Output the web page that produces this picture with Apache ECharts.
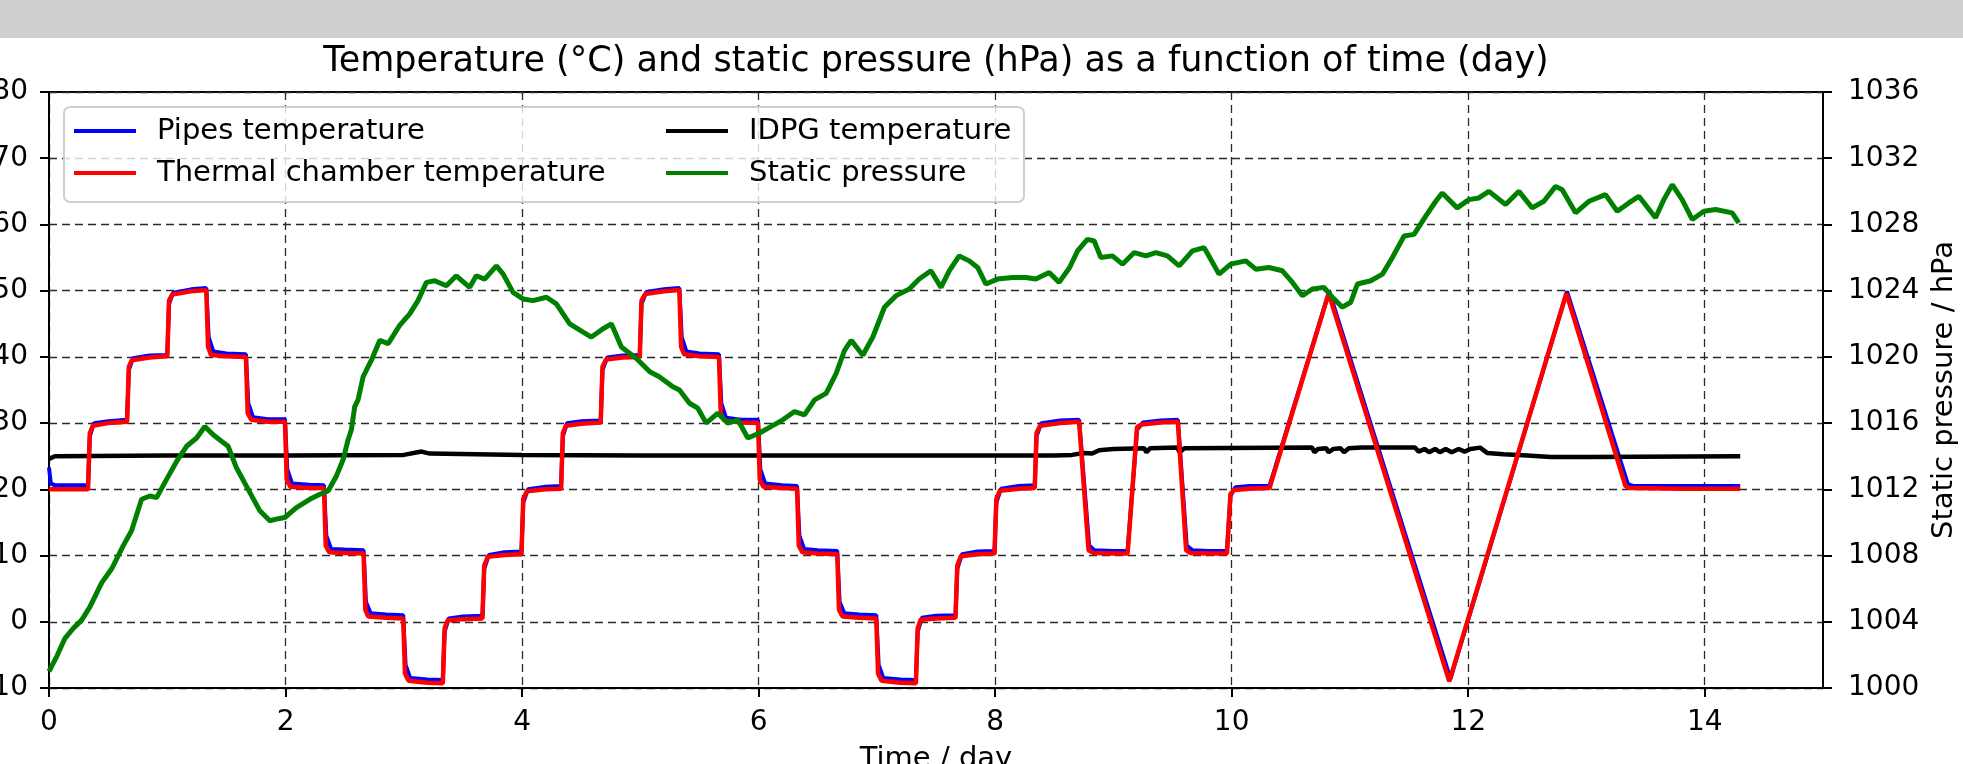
<!DOCTYPE html>
<html>
<head>
<meta charset="utf-8">
<script src="https://cdn.jsdelivr.net/npm/echarts@6/dist/echarts.min.js"></script>
<style>
html,body{margin:0;padding:0;background:#fff;}
#chart{width:1963px;height:764px;}
</style>
</head>
<body>
<div id="chart"></div>
<script>
// ---------- data (time in days) ----------
const xTicks = [0, 2, 4, 6, 8, 10, 12, 14];

const pipesTemperature = [
[0,23.3],[0.015,20.9],[0.05,20.6],[0.33,20.6],[0.345,28],[0.38,30],[0.5,30.3],[0.66,30.5],[0.675,38],[0.71,39.8],[0.85,40.2],[1.0,40.3],
[1.015,48],[1.05,49.7],[1.2,50.2],[1.33,50.4],[1.35,43],[1.39,40.8],[1.5,40.5],[1.665,40.4],[1.685,33],[1.725,30.9],[1.85,30.6],[1.995,30.6],
[2.015,23],[2.055,20.9],[2.2,20.7],[2.325,20.6],[2.345,13],[2.385,11.0],[2.5,10.9],[2.66,10.8],[2.68,3],[2.72,1.3],[2.85,1.1],[2.995,1.0],
[3.015,-6.5],[3.055,-8.5],[3.2,-8.7],[3.33,-8.8],[3.345,-1.5],[3.38,0.5],[3.5,0.8],[3.665,0.9],[3.68,8],[3.72,10.1],[3.85,10.5],[3.995,10.6],
[4.01,18],[4.05,20.0],[4.2,20.4],[4.33,20.5],[4.345,28],[4.38,30.0],[4.5,30.3],[4.665,30.4],[4.68,38],[4.72,39.9],[4.85,40.2],[4.995,40.3],
[5.01,48],[5.05,49.8],[5.2,50.2],[5.33,50.4],[5.35,43],[5.39,40.8],[5.5,40.5],[5.665,40.4],[5.685,33],[5.725,30.8],[5.85,30.5],[5.995,30.5],
[6.015,23],[6.055,20.9],[6.2,20.6],[6.325,20.5],[6.345,13],[6.385,11.0],[6.5,10.8],[6.665,10.7],[6.685,3],[6.725,1.3],[6.85,1.1],[6.995,1.0],
[7.015,-6.5],[7.055,-8.5],[7.2,-8.7],[7.33,-8.8],[7.345,-1.5],[7.38,0.6],[7.5,0.9],[7.665,1.0],[7.68,8],[7.72,10.2],[7.85,10.6],[7.995,10.7],
[8.01,18],[8.05,20.1],[8.2,20.5],[8.335,20.6],[8.35,28],[8.39,30.0],[8.55,30.4],[8.71,30.5],[8.795,11.5],[8.84,10.8],[9.0,10.7],[9.12,10.7],
[9.2,29],[9.25,30.1],[9.4,30.4],[9.545,30.5],[9.62,11.5],[9.67,10.8],[9.8,10.7],[9.96,10.7],[9.99,19],[10.03,20.3],[10.15,20.5],[10.32,20.5],
[10.825,49.9],[11.85,-8.6],[12.835,49.9],[13.35,20.8],[13.4,20.5],[13.8,20.5],[14.3,20.5]
];

const chamberTemperature = [
[0,20],[0.33,20],[0.345,28.5],[0.37,29.6],[0.5,30],[0.66,30.2],[0.675,38.5],[0.7,39.5],[0.85,39.9],[1.0,40.1],
[1.015,48.5],[1.04,49.4],[1.2,49.9],[1.33,50.1],[1.345,41.5],[1.37,40.3],[1.5,40.1],[1.665,40],[1.68,31.5],[1.71,30.5],[1.85,30.2],[1.995,30.2],
[2.01,21.5],[2.04,20.4],[2.2,20.2],[2.325,20.2],[2.34,11.5],[2.37,10.5],[2.5,10.4],[2.66,10.3],[2.675,1.8],[2.70,0.8],[2.85,0.6],[2.995,0.5],
[3.01,-7.8],[3.04,-8.9],[3.2,-9.2],[3.33,-9.3],[3.345,-1],[3.37,0.2],[3.5,0.4],[3.665,0.5],[3.68,8.5],[3.71,9.8],[3.85,10.1],[3.995,10.2],
[4.01,18.5],[4.04,19.7],[4.2,20],[4.33,20.1],[4.345,28.5],[4.37,29.6],[4.5,29.9],[4.665,30.1],[4.68,38.5],[4.71,39.6],[4.85,39.9],[4.995,40],
[5.01,48.5],[5.04,49.5],[5.2,49.9],[5.33,50.1],[5.345,41.5],[5.37,40.4],[5.5,40.1],[5.665,40],[5.68,31.5],[5.71,30.4],[5.85,30.1],[5.995,30],
[6.01,21.5],[6.04,20.4],[6.2,20.2],[6.325,20.1],[6.34,11.5],[6.37,10.5],[6.5,10.3],[6.665,10.2],[6.68,1.8],[6.71,0.8],[6.85,0.6],[6.995,0.5],
[7.01,-7.8],[7.04,-8.9],[7.2,-9.2],[7.33,-9.3],[7.345,-1],[7.37,0.3],[7.5,0.5],[7.665,0.6],[7.68,8.5],[7.71,9.9],[7.85,10.2],[7.995,10.3],
[8.01,18.5],[8.04,19.8],[8.2,20.1],[8.335,20.2],[8.35,28.5],[8.38,29.6],[8.55,30],[8.71,30.2],[8.79,10.8],[8.83,10.4],[9.0,10.3],[9.12,10.3],
[9.2,29.4],[9.24,29.8],[9.4,30.1],[9.545,30.2],[9.615,10.8],[9.65,10.4],[9.8,10.3],[9.96,10.3],[9.99,19.3],[10.02,19.9],[10.15,20.1],[10.32,20.2],
[10.82,49.6],[11.84,-9],[12.83,49.6],[13.33,20.5],[13.36,20.2],[13.8,20.1],[14.3,20.1]
];

const idpgTemperature = [
[0,24.6],[0.05,25],[1,25.1],[2,25.1],[3,25.2],[3.15,25.7],[3.22,25.4],[4,25.2],[5,25.1],[6,25.1],[7,25.1],[8,25.1],[8.5,25.1],
[8.65,25.2],[8.75,25.5],[8.82,25.4],[8.88,25.9],[9.0,26.1],[9.26,26.2],[9.28,25.6],[9.31,26.2],[9.54,26.3],[9.56,25.6],[9.6,26.2],
[10.68,26.3],[10.7,25.6],[10.73,26.1],[10.8,26.2],[10.82,25.6],[10.86,26.1],[10.92,26.2],[10.95,25.6],[10.99,26.2],[11.1,26.3],
[11.55,26.3],[11.58,25.7],[11.63,26.1],[11.67,25.6],[11.72,26.1],[11.76,25.6],[11.81,26.1],[11.86,25.6],[11.92,26.1],[11.97,25.7],[12.02,26.1],
[12.1,26.3],[12.16,25.5],[12.3,25.3],[12.5,25.1],[12.7,24.9],[13,24.9],[14.3,25]
];

const staticPressure = [
[0.0,1001.0],[0.065,1001.9],[0.135,1003.0],[0.205,1003.6],[0.276,1004.1],[0.346,1004.9],[0.445,1006.35],[0.53,1007.2],[0.628,1008.6],
[0.698,1009.5],[0.783,1011.4],[0.853,1011.6],[0.91,1011.5],[0.994,1012.6],[1.08,1013.7],[1.163,1014.6],[1.248,1015.1],[1.318,1015.8],
[1.388,1015.3],[1.459,1014.9],[1.515,1014.6],[1.585,1013.3],[1.684,1012.0],[1.783,1010.7],[1.867,1010.1],[1.923,1010.2],[1.994,1010.3],
[2.092,1010.9],[2.205,1011.4],[2.29,1011.7],[2.36,1011.9],[2.43,1012.8],[2.487,1013.8],[2.529,1015.0],[2.557,1015.6],[2.585,1017.0],
[2.613,1017.4],[2.656,1018.8],[2.726,1019.8],[2.797,1021.0],[2.868,1020.8],[2.965,1021.9],[3.05,1022.6],[3.12,1023.4],[3.191,1024.5],
[3.261,1024.6],[3.36,1024.3],[3.444,1024.9],[3.557,1024.2],[3.613,1024.9],[3.684,1024.7],[3.783,1025.5],[3.84,1025.0],[3.924,1023.9],
[4.008,1023.5],[4.093,1023.4],[4.206,1023.6],[4.29,1023.2],[4.403,1022.0],[4.516,1021.5],[4.586,1021.2],[4.685,1021.7],[4.755,1022.0],
[4.84,1020.6],[4.967,1019.9],[5.08,1019.1],[5.16,1018.8],[5.275,1018.2],[5.331,1018.0],[5.416,1017.2],[5.486,1016.9],[5.557,1016.0],
[5.655,1016.6],[5.74,1016.0],[5.824,1016.2],[5.909,1015.1],[6.008,1015.4],[6.107,1015.8],[6.205,1016.2],[6.304,1016.7],[6.388,1016.5],
[6.473,1017.4],[6.571,1017.8],[6.656,1019.0],[6.727,1020.4],[6.783,1021.0],[6.881,1020.1],[6.966,1021.2],[7.064,1023.0],[7.163,1023.7],
[7.274,1024.1],[7.358,1024.7],[7.457,1025.2],[7.542,1024.2],[7.612,1025.2],[7.696,1026.1],[7.781,1025.8],[7.852,1025.4],[7.922,1024.4],
[8.02,1024.7],[8.147,1024.8],[8.259,1024.8],[8.344,1024.7],[8.457,1025.1],[8.541,1024.5],[8.63,1025.4],[8.697,1026.4],[8.78,1027.1],
[8.838,1027.0],[8.894,1026.0],[8.992,1026.1],[9.077,1025.6],[9.176,1026.3],[9.275,1026.1],[9.359,1026.3],[9.457,1026.1],[9.556,1025.5],
[9.668,1026.4],[9.767,1026.6],[9.823,1025.9],[9.893,1025.0],[9.992,1025.6],[10.119,1025.8],[10.204,1025.3],[10.316,1025.4],[10.429,1025.2],
[10.514,1024.5],[10.598,1023.7],[10.683,1024.1],[10.781,1024.2],[10.852,1023.6],[10.936,1023.0],[11.007,1023.3],[11.063,1024.4],
[11.176,1024.6],[11.275,1025.0],[11.359,1026.0],[11.458,1027.3],[11.542,1027.4],[11.641,1028.5],[11.726,1029.4],[11.78,1029.9],
[11.907,1029.0],[12.006,1029.5],[12.09,1029.6],[12.175,1030.0],[12.316,1029.2],[12.429,1030.0],[12.541,1029.0],[12.64,1029.4],
[12.739,1030.3],[12.795,1030.1],[12.908,1028.7],[13.02,1029.4],[13.161,1029.8],[13.26,1028.8],[13.358,1029.3],[13.443,1029.7],
[13.584,1028.4],[13.654,1029.5],[13.725,1030.4],[13.809,1029.5],[13.894,1028.3],[13.993,1028.8],[14.091,1028.9],[14.232,1028.7],[14.288,1028.1]
];

const titleText = 'Temperature (°C) and static pressure (hPa) as a function of time (day)';
const FONT = 'DejaVu Sans';

// ---------- chart ----------
const chart = echarts.init(document.getElementById('chart'), null, {renderer: 'canvas'});

const gridDash = {color: '#2a2a2a', width: 1.3, type: [8, 5]};
const axisBlack = {color: '#000', width: 2};
const labelStyle = {fontFamily: FONT, fontSize: 28, color: '#000'};
const plainNum = v => String(v);

const option = {
  animation: false,
  backgroundColor: '#fff',
  textStyle: {fontFamily: FONT},
  grid: {left: 49, right: 140, top: 92, bottom: 76, containLabel: false, outerBoundsMode: 'none',
         show: true, borderColor: '#000', borderWidth: 2, backgroundColor: 'transparent'},
  graphic: [
    {type: 'rect', shape: {x: 0, y: 0, width: 1963, height: 38}, style: {fill: '#d0cfd0'}, z: 0},
    {type: 'text', x: 936, y: 62, style: {text: titleText, fontFamily: FONT, fontSize: 35, fill: '#000', align: 'center', verticalAlign: 'middle'}, z: 5},
    {type: 'rect', shape: {x: 64, y: 107, width: 960, height: 95, r: 6}, style: {fill: 'rgba(255,255,255,0.8)', stroke: '#cfcfcf', lineWidth: 2}, z: 3}
  ],
  legend: [
    {data: ['Pipes temperature', 'Thermal chamber temperature'], orient: 'vertical', left: 74, top: 114, padding: 0,
     itemWidth: 62, itemHeight: 4, itemGap: 8, icon: 'rect', selectedMode: false, z: 6,
     textStyle: {fontFamily: FONT, fontSize: 29, color: '#000', lineHeight: 34, padding: [0, 0, 0, 16]}},
    {data: ['IDPG temperature', 'Static pressure'], orient: 'vertical', left: 666, top: 114, padding: 0,
     itemWidth: 62, itemHeight: 4, itemGap: 8, icon: 'rect', selectedMode: false, z: 6,
     textStyle: {fontFamily: FONT, fontSize: 29, color: '#000', lineHeight: 34, padding: [0, 0, 0, 16]}}
  ],
  xAxis: {
    type: 'value', min: 0, max: 15, interval: 2,
    name: 'Time / day', nameLocation: 'middle', nameGap: 57,
    nameTextStyle: {fontFamily: FONT, fontSize: 29, color: '#000'},
    axisLine: {show: true, onZero: false, lineStyle: axisBlack},
    axisTick: {show: true, length: 9, inside: false, lineStyle: axisBlack, customValues: xTicks},
    axisLabel: Object.assign({margin: 21, customValues: xTicks, formatter: plainNum}, labelStyle),
    splitLine: {show: true, lineStyle: gridDash}
  },
  yAxis: [
    {
      type: 'value', min: -10, max: 80, interval: 10, position: 'left',
      axisLine: {show: true, onZero: false, lineStyle: axisBlack},
      axisTick: {show: true, length: 9, inside: false, lineStyle: axisBlack},
      axisLabel: Object.assign({margin: 21, formatter: plainNum}, labelStyle),
      splitLine: {show: true, lineStyle: gridDash}
    },
    {
      type: 'value', min: 1000, max: 1036, interval: 4, position: 'right',
      name: 'Static pressure / hPa', nameLocation: 'middle', nameRotate: 90, nameGap: 107,
      nameTextStyle: {fontFamily: FONT, fontSize: 29, color: '#000'},
      axisLine: {show: true, onZero: false, lineStyle: axisBlack},
      axisTick: {show: true, length: 9, inside: false, lineStyle: axisBlack},
      axisLabel: Object.assign({margin: 25, formatter: plainNum}, labelStyle),
      splitLine: {show: false}
    }
  ],
  series: [
    {name: 'Pipes temperature', type: 'line', yAxisIndex: 0, data: pipesTemperature, showSymbol: false, symbol: 'none',
     color: '#0000ff', lineStyle: {color: '#0000ff', width: 4}, itemStyle: {color: '#0000ff'}},
    {name: 'IDPG temperature', type: 'line', yAxisIndex: 0, data: idpgTemperature, showSymbol: false, symbol: 'none',
     color: '#000000', lineStyle: {color: '#000000', width: 4.5}, itemStyle: {color: '#000000'}},
    {name: 'Thermal chamber temperature', type: 'line', yAxisIndex: 0, data: chamberTemperature, showSymbol: false, symbol: 'none',
     color: '#ff0000', lineStyle: {color: '#ff0000', width: 4.5}, itemStyle: {color: '#ff0000'}},
    {name: 'Static pressure', type: 'line', yAxisIndex: 1, data: staticPressure, showSymbol: false, symbol: 'none',
     color: '#008000', lineStyle: {color: '#008000', width: 5}, itemStyle: {color: '#008000'}}
  ]
};
chart.setOption(option);
</script>
</body>
</html>
